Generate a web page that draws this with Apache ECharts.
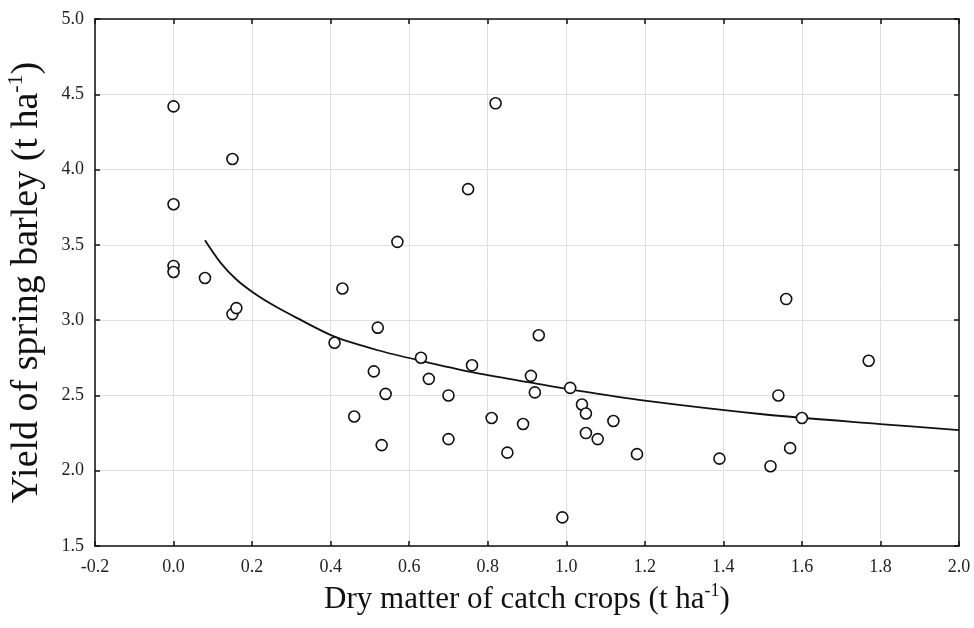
<!DOCTYPE html>
<html>
<head>
<meta charset="utf-8">
<script src="https://cdn.jsdelivr.net/npm/echarts@6/dist/echarts.min.js"></script>
<style>html,body{margin:0;padding:0;background:#fff;}#c{width:974px;height:628px;}</style>
</head>
<body>
<div id="c"></div>
<script>
// Observed points: dry matter of catch crops (x) and spring barley yield (y)
var dryMatter = [0.00,0.00,0.00,0.00,0.08,0.15,0.15,0.16,0.41,0.43,0.46,0.51,0.52,0.53,0.54,0.57,0.63,0.65,0.70,0.70,0.75,0.76,0.81,0.82,0.85,0.89,0.91,0.92,0.93,0.99,1.01,1.04,1.05,1.05,1.08,1.12,1.18,1.39,1.52,1.54,1.56,1.57,1.60,1.77];
var yieldVals = [4.42,3.77,3.36,3.32,3.28,4.07,3.04,3.08,2.85,3.21,2.36,2.66,2.95,2.17,2.51,3.52,2.75,2.61,2.50,2.21,3.87,2.70,2.35,4.44,2.12,2.31,2.63,2.52,2.90,1.69,2.55,2.44,2.38,2.25,2.21,2.33,2.11,2.08,2.03,2.50,3.14,2.15,2.35,2.73];
// Fitted curve
var curveX = [0.08,0.12,0.16,0.21,0.26,0.31,0.41,0.52,0.63,0.76,0.91,1.02,1.20,1.50,1.80,2.00];
var curveY = [3.53,3.38,3.27,3.17,3.09,3.02,2.89,2.80,2.73,2.655,2.585,2.535,2.465,2.375,2.31,2.27];
var xTicks = {min:-0.2, max:2.0, interval:0.2};
var yTicks = {min:1.5, max:5.0, interval:0.5};

var pts = dryMatter.map(function(x,i){return [x, yieldVals[i]];});
var curve = curveX.map(function(x,i){return [x, curveY[i]];});

var font = 'Liberation Serif';
var axisLine = {show:true, onZero:false, lineStyle:{color:'#111', width:1.5}};
var tick = {show:true, inside:true, length:5, lineStyle:{color:'#111', width:1.5}};
var chart = echarts.init(document.getElementById('c'));
chart.setOption({
  animation:false,
  backgroundColor:'#fff',
  grid:{left:95, top:19, right:15, bottom:82, containLabel:false, outerBoundsMode:'none'},
  xAxis:[{
    type:'value', min:xTicks.min, max:xTicks.max, interval:xTicks.interval, position:'bottom',
    axisLine:axisLine, axisTick:tick,
    axisLabel:{fontFamily:font, fontSize:18, color:'#222', margin:12, formatter:function(v){return v.toFixed(1);}},
    splitLine:{show:true, lineStyle:{color:'#e0e0e0', width:1}},
    name:'{a|Dry matter of catch crops (t ha}{s|-1}{a|)}', nameLocation:'middle', nameGap:36,
    nameTextStyle:{rich:{a:{fontFamily:font, fontSize:31, color:'#111'}, s:{fontFamily:font, fontSize:18, color:'#111', padding:[0,0,18,0]}}}
  },{
    type:'value', min:xTicks.min, max:xTicks.max, interval:xTicks.interval, position:'top',
    axisLine:axisLine, axisTick:tick, axisLabel:{show:false}, splitLine:{show:false}
  }],
  yAxis:[{
    type:'value', min:yTicks.min, max:yTicks.max, interval:yTicks.interval, position:'left',
    axisLine:axisLine, axisTick:tick,
    axisLabel:{fontFamily:font, fontSize:18, color:'#222', margin:11, formatter:function(v){return v.toFixed(1);}},
    splitLine:{show:true, lineStyle:{color:'#e0e0e0', width:1}},
    name:'{a|Yield of spring barley (t ha}{s|-1}{a|)}', nameLocation:'middle', nameGap:46, nameRotate:90,
    nameTextStyle:{rich:{a:{fontFamily:font, fontSize:38, color:'#111'}, s:{fontFamily:font, fontSize:22, color:'#111', padding:[0,0,22,0]}}}
  },{
    type:'value', min:yTicks.min, max:yTicks.max, interval:yTicks.interval, position:'right',
    axisLine:axisLine, axisTick:tick, axisLabel:{show:false}, splitLine:{show:false}
  }],
  series:[{
    type:'line', data:curve, smooth:0.3, symbol:'none',
    lineStyle:{color:'#111', width:1.8}, z:2
  },{
    type:'scatter', data:pts, symbol:'circle', symbolSize:11,
    itemStyle:{color:'#fff', borderColor:'#111', borderWidth:1.6, opacity:1}, z:3
  }]
});
</script>
</body>
</html>
